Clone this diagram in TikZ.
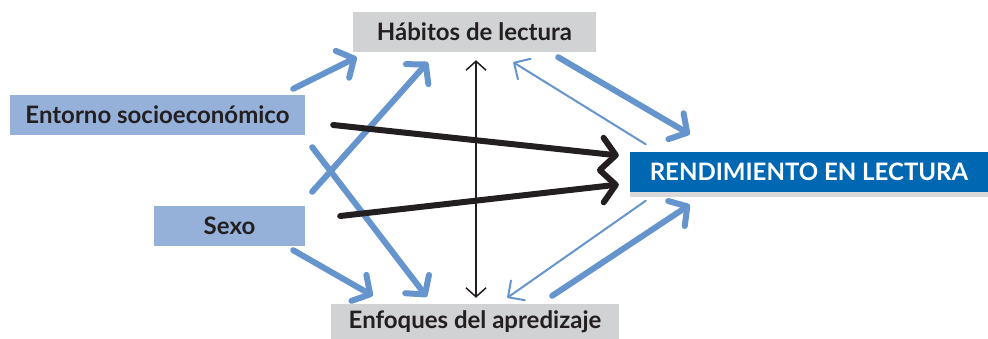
\documentclass[tikz,border=0pt]{standalone}
\usepackage{fontspec}
\setmainfont{Lato}
\usetikzlibrary{arrows.meta,calc,shadows}

\definecolor{gris}{HTML}{D1D2D4}
\definecolor{azulclaro}{HTML}{95B1DA}
\definecolor{azulfuerte}{HTML}{0068B3}
\definecolor{azulflecha}{HTML}{6695CE}
\definecolor{negro}{HTML}{231F20}

\begin{document}
\begin{tikzpicture}[x=1pt,y=-1pt,
  font=\fontsize{24}{28}\selectfont\bfseries,
  caja/.style={inner sep=0pt,minimum height=40pt,text=negro},
  flecha/.style={line width=6pt,azulflecha,line cap=round,-{Straight Barb[length=13pt,width=30pt,round]}},
  flechafina/.style={line width=2pt,azulflecha,line cap=round,-{Straight Barb[length=12pt,width=24pt,round]}},
  negra/.style={line width=6pt,negro,line cap=round,-{Straight Barb[length=14pt,width=32pt,round]}}]
  \useasboundingbox (0,0) rectangle (988,338);
  % cajas
  \node[caja,fill=gris,minimum width=243pt] (hab) at (474.5,32) {Hábitos de lectura};
  \node[caja,fill=azulclaro,minimum width=295pt] (ent) at (157.5,115) {Entorno socioeconómico};
  \node[caja,fill=azulclaro,minimum width=151pt] (sexo) at (229.5,226) {Sexo};
  \node[caja,fill=gris,minimum width=288pt,minimum height=36pt] (enf) at (475,322) {Enfoques del apredizaje};
  \node[caja,fill=azulfuerte,text=white,minimum width=358pt,
    drop shadow={shadow xshift=0pt,shadow yshift=-5pt,opacity=.3}] (rend) at (809,171.5) {RENDIMIENTO EN LECTURA};
  % flechas hacia los habitos y los enfoques
  \draw[flecha] ($(ent.north east)+(-12,-6)$) -- ($(hab.south west)+(4,5)$);
  \draw[flecha] ($(sexo.north east)+(7,-14)$) -- ($(hab.south west)+(75,10)$);
  \draw[flecha] ($(ent.south east)+(7,12)$) -- ($(enf.north west)+(96,-7)$);
  \draw[flecha] ($(sexo.south east)+(-12,4)$) -- ($(enf.north west)+(42,-8)$);
  \draw[line width=1.5pt,negro,{Straight Barb[length=9pt,width=20pt]}-{Straight Barb[length=9pt,width=20pt]}]
    ($(hab.south)+(1.5,8)$) -- ($(enf.north)+(1,-6)$);
  % flechas negras
  \draw[negra] ($(ent.east)+(28,10)$) -- ($(rend.west)+(-11,-16)$);
  \draw[negra] ($(sexo.east)+(35,-10)$) -- ($(rend.west)+(-11,13)$);
  % rendimiento
  \draw[flecha] ($(hab.south east)+(-38,5)$) -- ($(rend.north west)+(60,-17)$);
  \draw[flechafina] ($(rend.north west)+(16,-7)$) -- ($(hab.south east)+(-83,10)$);
  \draw[flechafina] ($(rend.south west)+(16,9)$) -- ($(enf.north east)+(-112,-6)$);
  \draw[flecha] ($(enf.north east)+(-67,-8)$) -- ($(rend.south west)+(60,13)$);
\end{tikzpicture}
\end{document}
